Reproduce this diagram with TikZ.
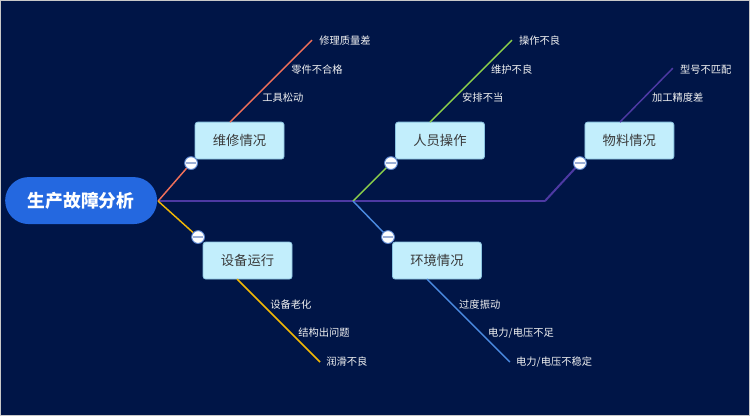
\documentclass[tikz,border=0pt]{standalone}
\usepackage{fontspec}
\setmainfont{Noto Sans CJK SC}
\definecolor{bgc}{HTML}{001547}
\definecolor{framec}{HTML}{C8C8C8}
\definecolor{rootc}{HTML}{2468E0}
\definecolor{boxfill}{HTML}{C2EEFC}
\definecolor{boxdraw}{HTML}{8AC3E0}
\definecolor{boxtext}{HTML}{3A3A3A}
\definecolor{redc}{HTML}{F0705A}
\definecolor{yelc}{HTML}{F2B705}
\definecolor{grnc}{HTML}{8CD04A}
\definecolor{bluc}{HTML}{4A8AE0}
\definecolor{purc}{HTML}{4D39A3}
\definecolor{circd}{HTML}{5B86D0}
\definecolor{minusc}{HTML}{9DB0D6}
\definecolor{labc}{HTML}{F2F2F2}
\begin{document}
\begin{tikzpicture}[x=0.75pt,y=-0.75pt,
  rootnode/.style={fill=rootc,draw=none,text=white,font=\bfseries\fontsize{13.3pt}{15pt}\selectfont,
    minimum width=114pt,minimum height=35.25pt,rounded corners=17.6pt,inner sep=0pt},
  catbox/.style={fill=boxfill,draw=boxdraw,line width=0.6pt,text=boxtext,rounded corners=2pt,
    font=\fontsize{10pt}{12pt}\selectfont,minimum width=66.75pt,minimum height=27.75pt,inner sep=0pt},
  toggle/.style={circle,fill=white,draw=circd,line width=0.7pt,minimum size=9.6pt,inner sep=0pt,
    path picture={\draw[minusc,line width=1.3pt] ([xshift=-3.6pt]path picture bounding box.center) -- ([xshift=3.6pt]path picture bounding box.center);}},
  leaf/.style={anchor=west,text=labc,font=\fontsize{7.7pt}{9pt}\selectfont,inner sep=0pt},
  spine/.style={purc,line width=1.5pt},
  branch/.style={line width=1.1pt}
]
% background and frame
\fill[bgc] (0,0) rectangle (750,416);
\draw[framec,line width=1pt] (0.5,0.5) rectangle (749.5,415.5);

% root
\node[rootnode] (root) at (81,200.5) {生产故障分析};
\coordinate (rootE) at (158,201);

% spine
\coordinate (j1) at (353,201);
\coordinate (j2) at (545,201);
\draw[spine] (rootE) -- (j1) -- (j2);

% toggles positions
\coordinate (t1) at (191,163);
\coordinate (t2) at (391,163);
\coordinate (t3) at (580,163);
\coordinate (t4) at (198,237);
\coordinate (t5) at (388,237);

% branch connectors
\draw[spine] (j2) -- (t3);
\draw[branch,redc] (rootE) -- (t1);
\draw[branch,yelc] (rootE) -- (t4);
\draw[branch,grnc] (j1) -- (t2);
\draw[branch,bluc] (j1) -- (t5);

% boxes
\node[catbox] (b1) at (239.5,140.5) {维修情况};
\node[catbox] (b2) at (440,140.5) {人员操作};
\node[catbox] (b3) at (629.5,140.5) {物料情况};
\node[catbox] (b4) at (247.5,260.5) {设备运行};
\node[catbox] (b5) at (437,260.5) {环境情况};

% toggles
\node[toggle] (c1) at (t1) {};
\node[toggle] (c2) at (t2) {};
\node[toggle] (c3) at (t3) {};
\node[toggle] (c4) at (t4) {};
\node[toggle] (c5) at (t5) {};

% ribs
\coordinate (s1) at (230,122);  \coordinate (e1) at (312,40);
\coordinate (s2) at (430,122);  \coordinate (e2) at (512,40);
\coordinate (s3) at (620,122);  \coordinate (e3) at (673,68);
\coordinate (s4) at (237,279);  \coordinate (e4) at (320,362);
\coordinate (s5) at (427,279);  \coordinate (e5) at (510,362);
\draw[branch,redc] (s1) -- (e1);
\draw[branch,grnc] (s2) -- (e2);
\draw[branch,purc] (s3) -- (e3);
\draw[branch,yelc] (s4) -- (e4);
\draw[branch,bluc] (s5) -- (e5);

% leaves
\node[leaf] (l11) at (319,40) {修理质量差};
\node[leaf] (l12) at (291,69) {零件不合格};
\node[leaf] (l13) at (262,97) {工具松动};

\node[leaf] (l21) at (519,40) {操作不良};
\node[leaf] (l22) at (491,69) {维护不良};
\node[leaf] (l23) at (462,97) {安排不当};

\node[leaf] (l31) at (680,69) {型号不匹配};
\node[leaf] (l32) at (652,97) {加工精度差};

\node[leaf] (l41) at (270,305) {设备老化};
\node[leaf] (l42) at (298,333) {结构出问题};
\node[leaf] (l43) at (326,362) {润滑不良};

\node[leaf] (l51) at (459,305) {过度振动};
\node[leaf] (l52) at (488,333) {电力/电压不足};
\node[leaf] (l53) at (516,362) {电力/电压不稳定};
\end{tikzpicture}
\end{document}
